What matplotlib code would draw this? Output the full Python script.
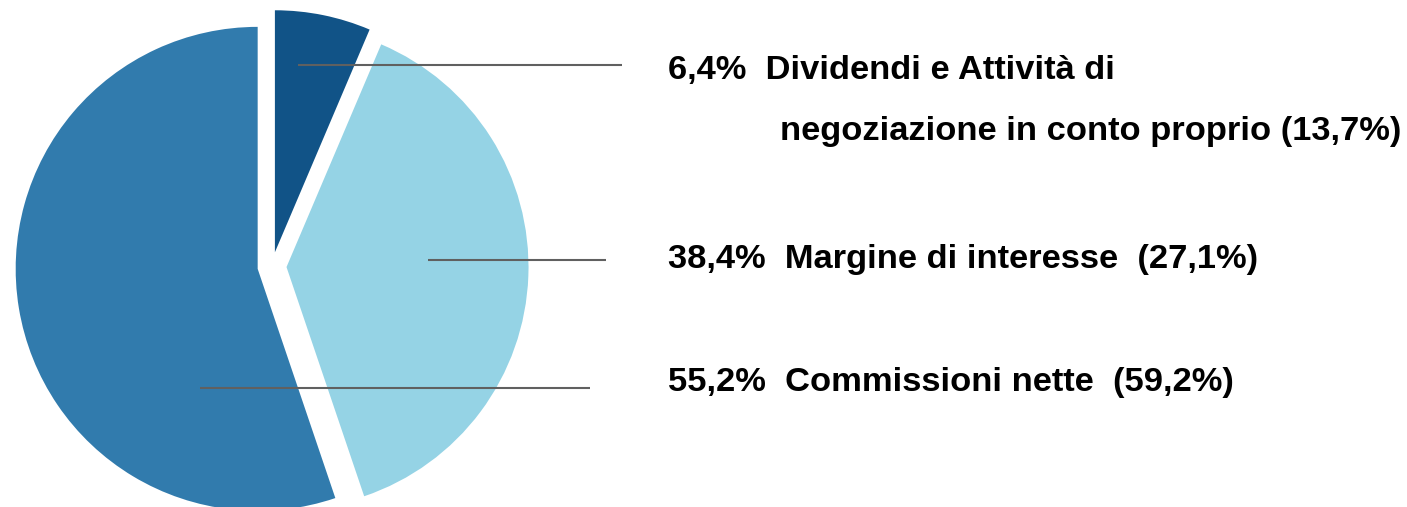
import matplotlib
matplotlib.use("Agg")
from matplotlib import pyplot as plt

# quote dei ricavi (anno corrente) e, tra parentesi, anno precedente
categorie = ["Dividendi e Attività di\nnegoziazione in conto proprio",
             "Margine di interesse",
             "Commissioni nette"]
quote     = [6.4, 38.4, 55.2]
quote_prec = [13.7, 27.1, 59.2]
colori    = ["#115387", "#95d3e5", "#317bad"]

W, H = 1407, 507
fig = plt.figure(figsize=(W/100, H/100), dpi=100)
ax = fig.add_axes([0, 0, 1, 1])

# torta in coordinate pixel (y verso l'alto)
r  = 242
cx = 272
cy = H - 266.5
ax.pie(quote, colors=colori, startangle=90, counterclock=False,
       explode=[0.06*r]*3, radius=r, center=(cx, cy),
       wedgeprops={'linewidth': 0})
ax.set_xlim(0, W)
ax.set_ylim(0, H)
ax.set_aspect('auto')
ax.axis('off')

def fmt(v):
    return f"{v:.1f}".replace('.', ',') + "%"

# linee di richiamo (y dall'alto, x inizio, x fine)
linee = [(65, 298, 622), (260, 428, 606), (388, 200, 590)]
for (y, x0, x1) in linee:
    ax.plot([x0, x1], [H - y, H - y], color="#606060", lw=1.5, solid_capstyle='butt')

font = dict(family="Liberation Sans", weight="bold", size=24.8, color="black")

# etichette
x_txt = 668
righe = [79, 268, 391]   # baseline, dall'alto
for i in range(3):
    parti = categorie[i].split("\n")
    if len(parti) == 2:
        ax.text(x_txt, H - righe[i], f"{fmt(quote[i])}  {parti[0]}", va='baseline', **font)
        ax.text(780, H - 140, f"{parti[1]} ({fmt(quote_prec[i])})", va='baseline', **font)
    else:
        ax.text(x_txt, H - righe[i], f"{fmt(quote[i])}  {parti[0]}  ({fmt(quote_prec[i])})",
                va='baseline', **font)

fig.savefig("out.png", dpi=100)
